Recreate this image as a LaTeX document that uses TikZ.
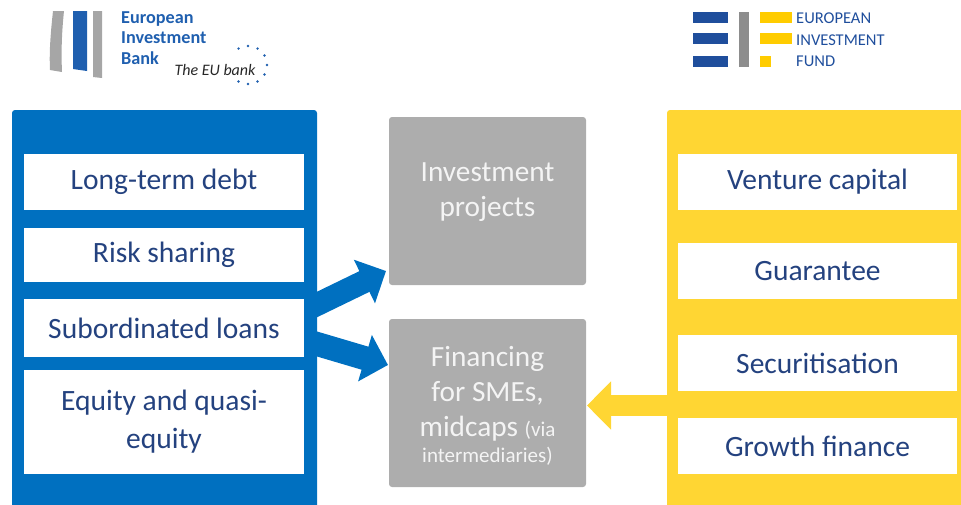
\documentclass[tikz,border=0pt]{standalone}
\usepackage{fontspec}
\setmainfont{Carlito}
\usetikzlibrary{arrows.meta}
\definecolor{eibblue}{HTML}{0070C0}
\definecolor{eifyellow}{HTML}{FFD633}
\definecolor{txtblue}{HTML}{24427F}
\definecolor{boxgray}{HTML}{ADADAD}
\definecolor{graytxt}{HTML}{F4F4F4}
\definecolor{logoblue}{HTML}{1F5FAF}
\definecolor{logogray}{HTML}{A6A6A6}
\definecolor{eiflogoblue}{HTML}{1F4E9C}
\definecolor{eiflogoyel}{HTML}{FFCC00}
\begin{document}
\begin{tikzpicture}[x=1pt,y=-1pt,
  panel/.style={rectangle, rounded corners=3pt, inner sep=0pt},
  whitebox/.style={rectangle, fill=white, inner sep=0pt, text=txtblue,
    font=\fontsize{29.5}{38}\selectfont, align=center},
  graybox/.style={rectangle, fill=boxgray, rounded corners=3pt, inner sep=0pt,
    minimum width=197pt, minimum height=168pt},
  graytext/.style={text=graytxt, font=\fontsize{29.3}{35}\selectfont, align=center, inner sep=0pt},
  fatarrow/.style={line width=#1, -{Triangle[length=24pt,width=47pt]}},
  logotext/.style={anchor=west, align=left, inner sep=0pt},
]
\useasboundingbox (0,0) rectangle (961,504);

% ---------- EIB logo ----------
\fill[logogray] (53,11) .. controls (51,30) and (49,50) .. (50,70) -- (62,72)
  .. controls (61,50) and (62,30) .. (64,11) -- cycle;
\fill[logoblue] (73,11) -- (87,11) -- (87,71) -- (73,69) -- cycle;
\fill[logogray] (93,11) -- (102,11) -- (102,78) -- (93,77) -- cycle;
\node[logotext, text=logoblue, font=\bfseries\fontsize{18.2}{20.5}\selectfont]
  (eibname) at (121,38) {European\\Investment\\Bank};
\node[inner sep=0pt, font=\itshape\fontsize{16}{16}\selectfont, text=black!85]
  (eibmotto) at (215,70) {The EU bank};
\foreach \a in {120,90,60,30,0,-30,-60,-90,-120}
  \fill[logoblue, shift={(248,65)}] (\a:19) circle (1.3);

% ---------- EIF logo ----------
\foreach \yy in {12,33,56}
  \fill[eiflogoblue] (693,\yy) rectangle (728,\yy+11);
\fill[logogray!85!black] (739,12) rectangle (749,67);
\fill[eiflogoyel] (760,12) rectangle (792,23);
\fill[eiflogoyel] (760,33) rectangle (792,44);
\fill[eiflogoyel] (760,56) rectangle (771,67);
\node[logotext, text=eiflogoblue, font=\fontsize{16.5}{21.5}\selectfont]
  (eifname) at (796,40) {EUROPEAN\\INVESTMENT\\FUND};

% ---------- panels ----------
\node[panel, fill=eibblue, minimum width=305pt, minimum height=410pt] (eib) at (164.5,315) {};
\node[panel, fill=eifyellow, minimum width=308pt, minimum height=410pt] (eif) at (821,315) {};

% ---------- gray targets ----------
\node[graybox] (proj) at (487.5,201) {};
\node[graybox] (sme) at (487.5,403) {};
\node[graytext] (projtxt) at (487.5,192) {Investment\\projects};
\node[graytext] (smetxt) at (487.5,406)
  {Financing\\for SMEs,\\midcaps {\fontsize{21}{24}\selectfont(via}\\[-9pt]{\fontsize{21}{24}\selectfont intermediaries)}};

% ---------- arrows ----------
\coordinate (eibup) at (310,307.9);
\coordinate (eibdn) at (310,341.9);
\coordinate (eifout) at (690,405.5);
\coordinate (projin) at (386,271);
\coordinate (smein) at (388,365);
\coordinate (smeinr) at (587,405.5);
\draw[eibblue, fatarrow=23pt] (eibup) -- (projin);
\draw[eibblue, fatarrow=24pt] (eibdn) -- (smein);
\draw[eifyellow, fatarrow=21pt] (eifout) -- (smeinr);

% ---------- EIB products ----------
\node[whitebox, minimum width=280pt, minimum height=56pt] (b1) at (164,182) {Long-term debt};
\node[whitebox, minimum width=280pt, minimum height=54pt] (b2) at (164,255) {Risk sharing};
\node[whitebox, minimum width=280pt, minimum height=58pt] (b3) at (164,328) {Subordinated loans};
\node[whitebox, minimum width=280pt, minimum height=104pt] (b4) at (164,422) {Equity and quasi-\\equity};

% ---------- EIF products ----------
\node[whitebox, minimum width=279pt, minimum height=56pt] (y1) at (817.5,182) {Venture capital};
\node[whitebox, minimum width=279pt, minimum height=56pt] (y2) at (817.5,271) {Guarantee};
\node[whitebox, minimum width=279pt, minimum height=56pt] (y3) at (817.5,363) {Securitisation};
\node[whitebox, minimum width=279pt, minimum height=56pt] (y4) at (817.5,446) {Growth finance};
\end{tikzpicture}
\end{document}
